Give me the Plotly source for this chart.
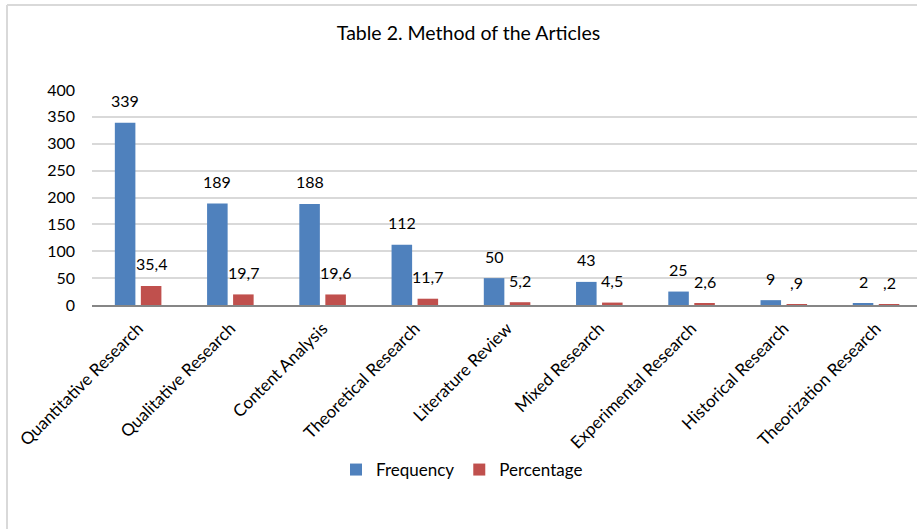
import plotly.graph_objects as go

# Research methods and their counts / shares
methods = [
    "Quantitative Research", "Qualitative Research", "Content Analysis",
    "Theoretical Research", "Literature Review", "Mixed Research",
    "Experimental Research", "Historical Research", "Theorization Research",
]
frequency = [339, 189, 188, 112, 50, 43, 25, 9, 2]
percentage = [35.4, 19.7, 19.6, 11.7, 5.2, 4.5, 2.6, 0.9, 0.2]
y_ticks = [0, 50, 100, 150, 200, 250, 300, 350, 400]

BLUE = "#4F81BD"
RED = "#C0504D"
FONT = "Lato"

W, H = 917, 529
L, T, B = 92, 90, 224          # plot area margins in px
PLOT_W = W - L
PLOT_H = H - T - B


def pct_label(v):
    s = f"{v:.1f}".replace(".", ",")
    return s[1:] if s.startswith("0") else s


def px_to_paper_x(px):
    return (px - L) / PLOT_W


def px_to_paper_y(py):
    return (H - B - py) / PLOT_H


fig = go.Figure()
fig.add_trace(go.Bar(name="Frequency", x=methods, y=frequency,
                     marker=dict(color=BLUE, line=dict(width=0))))
fig.add_trace(go.Bar(name="Percentage", x=methods, y=percentage,
                     marker=dict(color=RED, line=dict(width=0))))

# value labels floating above each bar
label_font = dict(family=FONT, size=16, color="#000")
annotations = []
for m, f, p in zip(methods, frequency, percentage):
    annotations.append(dict(x=m, y=f, xref="x", yref="y", text=str(f),
                            showarrow=False, xshift=-13, yshift=22,
                            yanchor="middle", font=label_font))
    annotations.append(dict(x=m, y=p, xref="x", yref="y", text=pct_label(p),
                            showarrow=False, xshift=13, yshift=22,
                            yanchor="middle", font=label_font))

# chart frame (top and left edges)
shapes = [
    dict(type="line", xref="paper", yref="paper",
         x0=px_to_paper_x(7), x1=px_to_paper_x(W + 5),
         y0=px_to_paper_y(5), y1=px_to_paper_y(5),
         line=dict(color="#D9D9D9", width=2)),
    dict(type="line", xref="paper", yref="paper",
         x0=px_to_paper_x(7), x1=px_to_paper_x(7),
         y0=px_to_paper_y(5), y1=px_to_paper_y(H + 5),
         line=dict(color="#D9D9D9", width=2)),
]

fig.update_layout(
    width=W, height=H,
    margin=dict(l=L, r=0, t=T, b=B, pad=0),
    paper_bgcolor="white", plot_bgcolor="white",
    barmode="group", bargap=0.436, bargroupgap=0.21,
    font=dict(family=FONT, size=16, color="#000"),
    title=dict(text="Table 2. Method of the Articles", x=468.5 / W, xanchor="center",
               y=1 - 33 / H, yanchor="middle", font=dict(family=FONT, size=19.5, color="#000")),
    xaxis=dict(range=[-0.5, 8.444], showgrid=False, showline=True, linecolor="#868686",
               linewidth=2, tickangle=-45, ticks="", ticklabelstandoff=5,
               tickfont=dict(family=FONT, size=17), fixedrange=True),
    yaxis=dict(range=[0, 400], tickvals=y_ticks, showgrid=True, gridcolor="#D9D9D9",
               gridwidth=1.5, zeroline=False, showline=False, ticks="",
               ticklabelstandoff=16, tickfont=dict(family=FONT, size=16)),
    legend=dict(orientation="h", x=px_to_paper_x(462), xanchor="center",
                y=px_to_paper_y(470), yanchor="middle",
                font=dict(family=FONT, size=17), itemwidth=30, traceorder="normal"),
    annotations=annotations,
    shapes=shapes,
    showlegend=True,
)

fig.write_html("out.html")
